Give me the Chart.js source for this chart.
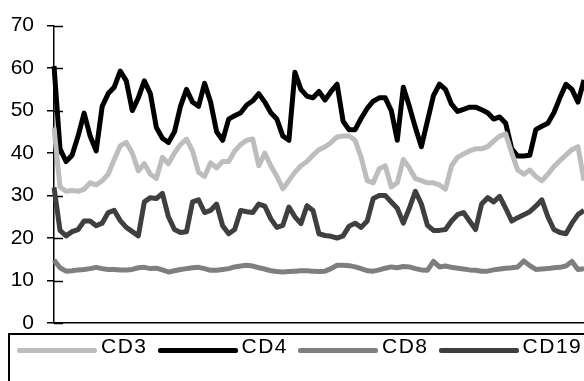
<!DOCTYPE html>
<html lang="en">
<head>
    <meta charset="UTF-8">
    <title>CD3 / CD4 / CD8 / CD19</title>
    <style>
        body {
            margin: 0;
            background: #fff;
            font-family: "Liberation Sans", Arial, sans-serif;
        }
        .wrap {
            position: relative;
            width: 584px;
            height: 381px;
            overflow: hidden;
        }
        canvas {
            position: absolute;
            left: 0;
            top: 0;
        }
        .legend {
            position: absolute;
            left: 8px;
            top: 333px;
            width: 720px;
            height: 80px;
            border: 2px solid #000;
            box-sizing: border-box;
            display: flex;
            align-items: flex-start;
            padding: 0 0 0 7px;
            white-space: nowrap;
        }
        .legend .item {
            display: flex;
            align-items: flex-start;
            margin-right: 10px;
        }
        .legend .sample {
            display: inline-block;
            width: 80px;
            height: 5px;
            margin-top: 13px;
            margin-right: 4px;
            border-radius: 2px;
        }
        .legend .text {
            font-size: 21px;
            line-height: 21px;
            letter-spacing: 1.5px;
            color: #000;
        }
    </style>
</head>
<body>
    <div class="wrap">
        <canvas id="chart" width="584" height="381"></canvas>
        <div class="legend" id="legend"></div>
    </div>

    <script src="https://cdn.jsdelivr.net/npm/chart.js"></script>
    <script>
        // series, one value per sample
        const seriesNames = ['CD3', 'CD4', 'CD8', 'CD19'];
        const seriesColors = ['#bdbdbd', '#000000', '#7f7f7f', '#3f3f3f'];
        const yTicks = [0, 10, 20, 30, 40, 50, 60, 70];

        const cd3 = [46, 32, 31, 31.2, 31, 31.5, 33, 32.5, 33.5, 35, 38.5, 41.7, 42.5, 40, 35.8, 37.5, 35, 34, 39, 37.5,
            40, 42, 43.3, 40.5, 35.5, 34.5, 37.7, 36.5, 38, 38, 40.5, 42, 43, 43.3, 37, 40, 37, 34.5, 31.6, 33.5,
            35.5, 37, 38, 39.5, 40.8, 41.5, 42.5, 43.8, 44, 44, 43, 39, 33.5, 33, 36.3, 37, 32, 33, 38.5, 36.5,
            34, 33.5, 33, 33, 32.5, 31.5, 37, 39, 39.8, 40.5, 41, 41, 41.5, 42.8, 44, 44.5, 40, 36, 35, 36,
            34.5, 33.5, 35, 36.8, 38.2, 39.5, 40.8, 41.5, 33.5];
        const cd4 = [60.5, 41, 38, 39.5, 44, 49.4, 44, 40.5, 51, 54, 55.5, 59.3, 57, 50, 53, 57, 54, 46, 43.5, 42.5,
            45, 51, 55, 52, 51, 56.4, 52, 45, 43, 48, 48.8, 49.5, 51.3, 52.3, 54, 52, 49.5, 48, 44, 43,
            59, 55, 53.4, 53, 54.5, 52.5, 54.5, 56.2, 47.5, 45.5, 45.5, 48.2, 50.5, 52.2, 53, 53, 50, 43, 55.5, 51,
            46, 41.5, 47.5, 53.5, 56.2, 55, 51.5, 49.8, 50.3, 50.8, 50.8, 50.2, 49.5, 48, 48.5, 47, 41, 39.3, 39.3, 39.5,
            45.5, 46.3, 47, 49.5, 53, 56.2, 55, 52, 57.2];
        const cd8 = [14.8, 13, 12.2, 12.3, 12.5, 12.6, 12.8, 13.1, 12.8, 12.6, 12.6, 12.5, 12.5, 12.6, 13, 13.1, 12.8, 12.9, 12.5, 12,
            12.3, 12.6, 12.8, 13, 13.1, 12.8, 12.4, 12.4, 12.6, 12.8, 13.2, 13.4, 13.6, 13.4, 13, 12.7, 12.3, 12.1, 12, 12.1,
            12.2, 12.3, 12.3, 12.2, 12.1, 12.2, 12.8, 13.6, 13.6, 13.5, 13.2, 12.8, 12.3, 12.2, 12.5, 12.9, 13.2, 13, 13.3, 13.2,
            12.8, 12.5, 12.4, 14.5, 13.2, 13.4, 13.1, 12.9, 12.7, 12.5, 12.4, 12.2, 12.2, 12.5, 12.7, 12.9, 13, 13.2, 14.6, 13.5,
            12.6, 12.7, 12.8, 13, 13.1, 13.4, 14.5, 12.6, 12.8];
        const cd19 = [31.9, 21.8, 20.5, 21.5, 22, 24, 24, 22.9, 23.5, 26, 26.5, 24.1, 22.5, 21.5, 20.5, 28.5, 29.5, 29.3, 30.5, 25,
            22, 21.3, 21.5, 28.5, 29, 26, 26.5, 28, 22.9, 21, 22, 26.5, 26.2, 26, 28, 27.5, 24.5, 22.5, 23, 27.3,
            25, 23.4, 27.6, 26.5, 21, 20.6, 20.4, 20, 20.5, 22.8, 23.5, 22.5, 24, 29.3, 30, 30, 28.5, 27, 23.5, 27,
            31, 28, 23, 21.8, 21.8, 22, 24, 25.5, 26, 24, 22, 28, 29.5, 28.5, 29.8, 27, 24, 24.8, 25.5, 26.2,
            27.5, 29, 25, 22, 21.3, 21, 23.5, 25.5, 26.5];

        const samples = cd4.map((_, i) => String(i + 1));
        const seriesValues = [cd3, cd4, cd8, cd19];

        const fontFamily = '"Liberation Sans", Arial, sans-serif';

        // tick marks that cross the y axis into the plot
        const crossTicks = {
            id: 'crossTicks',
            beforeDatasetsDraw(chart) {
                const y = chart.scales.y;
                const ctx = chart.ctx;
                ctx.save();
                ctx.strokeStyle = '#000';
                ctx.lineWidth = 1.5;
                y.ticks.forEach(t => {
                    const py = Math.round(y.getPixelForValue(t.value)) + 0.5;
                    ctx.beginPath();
                    ctx.moveTo(y.right, py);
                    ctx.lineTo(y.right + 9, py);
                    ctx.stroke();
                });
                ctx.restore();
            }
        };

        const datasets = seriesNames.map((name, i) => ({
            label: name,
            data: seriesValues[i],
            borderColor: seriesColors[i],
            backgroundColor: seriesColors[i],
            borderWidth: 5,
            borderJoinStyle: 'round',
            pointRadius: 0,
            tension: 0,
            fill: false
        }));

        const chart = new Chart(document.getElementById('chart'), {
            type: 'line',
            data: { labels: samples, datasets: datasets },
            options: {
                responsive: false,
                animation: false,
                layout: { padding: { top: 24, bottom: 58, left: 0, right: 0 } },
                plugins: {
                    legend: { display: false },
                    tooltip: { enabled: false }
                },
                scales: {
                    x: {
                        ticks: { display: false },
                        grid: { display: false },
                        border: { display: true, color: '#000', width: 1.5 },
                        afterFit(s) { s.height = 0; }
                    },
                    y: {
                        min: yTicks[0],
                        max: yTicks[yTicks.length - 1],
                        afterBuildTicks(s) { s.ticks = yTicks.map(v => ({ value: v })); },
                        ticks: {
                            color: '#000',
                            padding: 13,
                            font: { family: fontFamily, size: 21 }
                        },
                        grid: { drawOnChartArea: false, color: '#000', tickLength: 7, lineWidth: 1.5 },
                        border: { color: '#000', width: 1.5 },
                        afterFit(s) { s.width = 54; }
                    }
                }
            },
            plugins: [crossTicks]
        });

        // legend as plain html, built from the datasets
        const legend = document.getElementById('legend');
        chart.data.datasets.forEach(ds => {
            const item = document.createElement('span');
            item.className = 'item';
            const sample = document.createElement('span');
            sample.className = 'sample';
            sample.style.background = ds.borderColor;
            const text = document.createElement('span');
            text.className = 'text';
            text.textContent = ds.label;
            item.appendChild(sample);
            item.appendChild(text);
            legend.appendChild(item);
        });
    </script>
</body>
</html>
